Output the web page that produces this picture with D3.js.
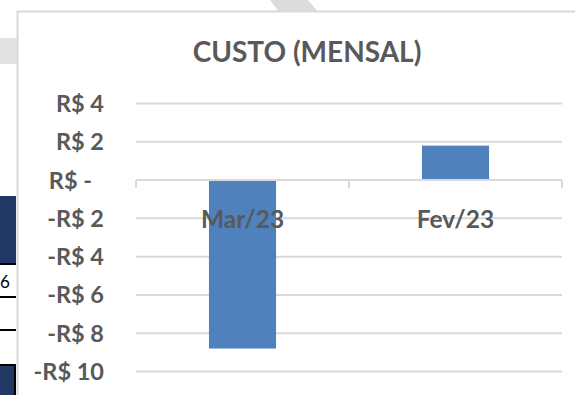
<!DOCTYPE html>
<html>
<head>
<meta charset="utf-8">
<script src="https://cdn.jsdelivr.net/npm/d3@7"></script>
<style>
  html, body { margin: 0; padding: 0; background: #ffffff; }
  svg { display: block; }
  text { font-family: Lato, "Open Sans", sans-serif; font-weight: 700; }
</style>
</head>
<body>
<svg id="chart" width="575" height="395"></svg>
<script>
// Monthly cost per period
const categories = ["Mar/23", "Fev/23"];
const custo = [-8.8, 1.8];
const yTicks = [4, 2, 0, -2, -4, -6, -8, -10];
const title = "CUSTO (MENSAL)";

const W = 575, H = 395;
const svg = d3.select("#chart");
const textColor = "#595959";
const gridColor = "#d9d9d9";

// ---- spreadsheet surroundings peeking out behind the chart object ----
const bg = svg.append("g");
bg.append("polygon")
  .attr("points", "270,0 308,0 318,12 279,12")
  .attr("fill", "#dcdcdc");
bg.append("rect").attr("x", 0).attr("y", 38).attr("width", 17).attr("height", 26)
  .attr("fill", "#e2e2e2");
bg.append("rect").attr("x", 0).attr("y", 196).attr("width", 16).attr("height", 67)
  .attr("fill", "#1f3864");
bg.append("line").attr("x1", 0).attr("x2", 16).attr("y1", 264).attr("y2", 264)
  .attr("stroke", "#000").attr("stroke-width", 2);
bg.append("text").attr("x", 0).attr("y", 288).attr("text-anchor", "start")
  .attr("font-size", 17).style("font-weight", 400).attr("fill", "#000").text("6");
bg.append("line").attr("x1", 0).attr("x2", 16).attr("y1", 297).attr("y2", 297)
  .attr("stroke", "#000").attr("stroke-width", 2);
bg.append("line").attr("x1", 0).attr("x2", 16).attr("y1", 330).attr("y2", 330)
  .attr("stroke", "#000").attr("stroke-width", 2);
bg.append("rect").attr("x", -2).attr("y", 365).attr("width", 17).attr("height", 40)
  .attr("fill", "#1f3864").attr("stroke", "#000").attr("stroke-width", 2);

// ---- chart object frame ----
svg.append("rect")
  .attr("x", 17.5).attr("y", 11.5).attr("width", W).attr("height", H)
  .attr("fill", "#ffffff").attr("stroke", gridColor).attr("stroke-width", 2);

// ---- scales ----
const plotLeft = 136, plotRight = 562;
const y = d3.scaleLinear().domain([-10, 4]).range([371.5, 103.5]);
const x = d3.scaleBand().domain(categories).range([plotLeft, plotRight])
  .paddingInner(0.685).paddingOuter(0.3425);
const xCat = d3.scaleBand().domain(categories).range([plotLeft, plotRight]);

// ---- gridlines ----
svg.append("g")
  .selectAll("line")
  .data(yTicks.filter(d => d !== 0))
  .join("line")
  .attr("x1", plotLeft).attr("x2", plotRight)
  .attr("y1", d => y(d)).attr("y2", d => y(d))
  .attr("stroke", gridColor).attr("stroke-width", 2);

// ---- y axis labels ----
const fmt = v => v === 0 ? "R$ -" : (v < 0 ? "-R$ " + Math.abs(v) : "R$ " + v);
svg.append("g")
  .selectAll("text")
  .data(yTicks)
  .join("text")
  .attr("x", d => d === 0 ? 92 : 104)
  .attr("y", d => y(d))
  .attr("dy", "0.36em")
  .attr("text-anchor", "end")
  .attr("font-size", 23.5)
  .attr("fill", textColor)
  .text(fmt);

// ---- bars ----
svg.append("g")
  .selectAll("rect")
  .data(categories.map((c, i) => ({ c, v: custo[i] })))
  .join("rect")
  .attr("x", d => x(d.c))
  .attr("width", x.bandwidth())
  .attr("y", d => y(Math.max(0, d.v)))
  .attr("height", d => Math.abs(y(d.v) - y(0)))
  .attr("fill", "#4f81bd");

// ---- category axis (zero line with tick marks) ----
const axisG = svg.append("g");
axisG.append("line")
  .attr("x1", plotLeft).attr("x2", plotRight)
  .attr("y1", y(0)).attr("y2", y(0))
  .attr("stroke", gridColor).attr("stroke-width", 2);
const tickXs = categories.map(c => xCat(c)).concat([plotRight]);
axisG.selectAll("line.tick")
  .data(tickXs)
  .join("line")
  .attr("class", "tick")
  .attr("x1", d => d).attr("x2", d => d)
  .attr("y1", y(0)).attr("y2", y(0) + 8)
  .attr("stroke", gridColor).attr("stroke-width", 2);

// category labels sit just below the zero line
axisG.selectAll("text")
  .data(categories)
  .join("text")
  .attr("x", d => xCat(d) + xCat.bandwidth() / 2)
  .attr("y", 228)
  .attr("text-anchor", "middle")
  .attr("font-size", 24.5)
  .attr("fill", textColor)
  .text(d => d);

// ---- title ----
svg.append("text")
  .attr("x", 307).attr("y", 62)
  .attr("text-anchor", "middle")
  .attr("font-size", 28)
  .attr("fill", textColor)
  .text(title);
</script>
</body>
</html>
